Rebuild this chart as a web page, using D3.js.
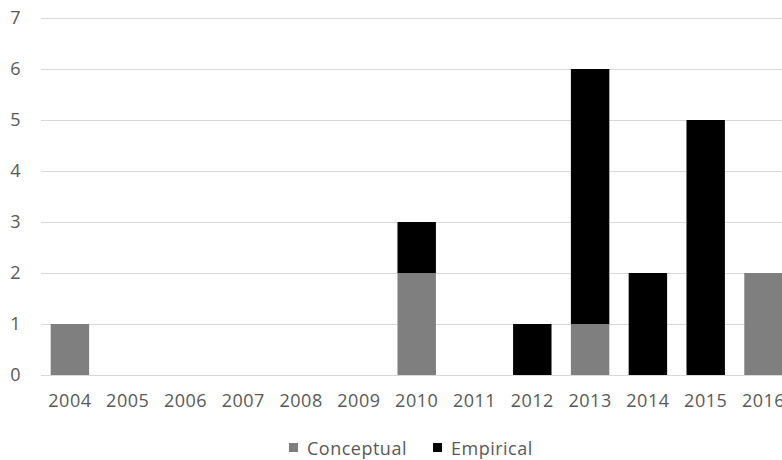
<!DOCTYPE html>
<html>
<head>
<meta charset="utf-8">
<script src="https://cdn.jsdelivr.net/npm/d3@7"></script>
<style>
  html, body { margin: 0; padding: 0; background: #fff; }
  svg { display: block; }
  text { font-family: "Open Sans", sans-serif; fill: #595959; }
</style>
</head>
<body>
<svg id="chart" width="782" height="460"></svg>
<script>
// Publications per year, split by study type
const years = ["2004","2005","2006","2007","2008","2009","2010","2011","2012","2013","2014","2015","2016"];
const conceptual = [1,0,0,0,0,0,2,0,0,1,0,0,2];
const empirical  = [0,0,0,0,0,0,1,0,1,5,2,5,0];
const seriesNames = ["Conceptual", "Empirical"];
const seriesColors = ["#7f7f7f", "#000000"];
const yTicks = [0,1,2,3,4,5,6,7];

const svg = d3.select("#chart");
const W = 782, H = 460;
const plotLeft = 41, plotTop = 18, plotBottom = 375;
const step = 57.8;
const fontSize = 18, letterSpacing = 0.5;

const x = d3.scaleBand()
  .domain(years)
  .range([plotLeft, plotLeft + step * years.length])
  .paddingInner(0.335)
  .paddingOuter(0.1675);

const y = d3.scaleLinear().domain([0, 7]).range([plotBottom, plotTop]);

// horizontal gridlines
svg.append("g")
  .selectAll("line")
  .data(yTicks)
  .join("line")
  .attr("x1", plotLeft).attr("x2", W)
  .attr("y1", d => Math.round(y(d)) + 0.5).attr("y2", d => Math.round(y(d)) + 0.5)
  .attr("stroke", "#d9d9d9").attr("stroke-width", 1);

const styleText = g => g.selectAll("text")
  .attr("font-size", fontSize)
  .attr("letter-spacing", letterSpacing)
  .attr("font-family", "Open Sans, sans-serif")
  .attr("fill", "#595959");

// y axis labels
const yAxis = d3.axisLeft(y).tickValues(yTicks).tickSize(0).tickPadding(0).tickFormat(d3.format("d"));
svg.append("g")
  .attr("transform", `translate(21,0)`)
  .call(yAxis)
  .call(g => g.select(".domain").remove())
  .call(styleText);

// x axis labels
const xAxis = d3.axisBottom(x).tickSize(0).tickPadding(0);
svg.append("g")
  .attr("transform", `translate(0,${plotBottom + 19})`)
  .call(xAxis)
  .call(g => g.select(".domain").remove())
  .call(styleText);

// stacked bars
const rows = years.map((yr, i) => ({ year: yr, Conceptual: conceptual[i], Empirical: empirical[i] }));
const stacked = d3.stack().keys(seriesNames)(rows);

svg.append("g")
  .selectAll("g")
  .data(stacked)
  .join("g")
  .attr("fill", (d, i) => seriesColors[i])
  .selectAll("rect")
  .data(d => d.filter(s => s[1] - s[0] > 0))
  .join("rect")
  .attr("x", d => x(d.data.year))
  .attr("width", x.bandwidth())
  .attr("y", d => y(d[1]))
  .attr("height", d => y(d[0]) - y(d[1]));

// legend
const legend = svg.append("g");
const legendItems = [
  { name: seriesNames[0], color: seriesColors[0], x: 289 },
  { name: seriesNames[1], color: seriesColors[1], x: 433 }
];
legendItems.forEach(it => {
  legend.append("rect")
    .attr("x", it.x).attr("y", 443).attr("width", 9).attr("height", 9)
    .attr("fill", it.color);
  legend.append("text")
    .attr("x", it.x + 18).attr("y", 448)
    .attr("dominant-baseline", "central")
    .attr("font-size", fontSize)
    .attr("letter-spacing", letterSpacing)
    .text(it.name);
});
</script>
</body>
</html>
